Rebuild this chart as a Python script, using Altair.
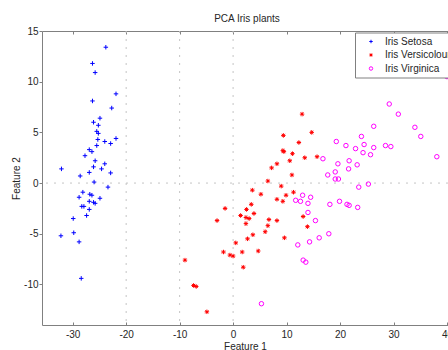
import altair as alt
import pandas as pd

# ---- data ----
setosa_x = [-23.8, -26.3, -25.8, -21.9, -26.3, -22.7, -24.9, -26.1, -25.2, -25.5,
            -25.2, -25.3, -24.0, -21.9, -22.9, -25.5, -26.9, -26.4, -27.7, -25.8,
            -24.0, -26.1, -32.1, -24.6, -26.9, -22.9, -28.6, -26.0, -23.4, -28.1,
            -26.8, -26.4, -28.8, -24.9, -26.1, -25.8, -26.9, -28.3, -27.9, -26.9,
            -27.4, -29.9, -29.8, -32.2, -28.8, -28.4]
setosa_y = [13.4, 11.8, 10.9, 8.8, 8.1, 7.4, 6.4, 6.0, 5.7, 5.1,
            4.9, 4.3, 4.1, 4.4, 3.9, 3.7, 3.3, 3.1, 2.7, 2.2,
            1.9, 1.6, 1.4, 1.4, 1.05, 1.0, 0.7, 0.1, -0.4, -0.9,
            -1.1, -1.2, -1.4, -1.5, -1.9, -2.0, -1.8, -2.3, -2.3, -2.6,
            -3.2, -3.5, -4.9, -5.2, -5.8, -9.4]

versi_x = [12.9, 9.4, 14.7, 12.3, 9.3, 9.5, 11.1, 13.4, 15.7, 10.6,
           8.2, 7.2, 11.0, 6.5, 9.0, 3.6, 5.2, 11.3, 9.9, 8.2,
           9.3, 3.4, -1.5, 2.5, 3.9, 1.4, 2.4, 3.0, -3.0, 6.7,
           8.2, 2.4, 6.5, 6.0, 3.7, 2.7, 9.6, 0.5, 4.7, -1.8,
           -0.6, 0.0, 1.7, -9.0, 1.9, -7.4, -6.9, -4.9, 13.1, 13.9]
versi_y = [6.8, 4.7, 5.0, 4.0, 3.2, 3.1, 2.9, 2.5, 2.6, 2.2,
           1.9, 1.5, 0.8, 0.2, -0.3, -0.7, -1.1, -0.9, -1.2, -1.6,
           -1.8, -2.1, -2.5, -2.6, -3.0, -3.2, -3.4, -3.5, -3.7, -3.6,
           -3.7, -4.0, -4.2, -4.8, -5.1, -5.5, -5.4, -5.9, -6.7, -6.8,
           -7.1, -7.2, -6.8, -7.6, -8.3, -10.1, -10.2, -12.7, -3.3, -4.3]

virg_x = [29.2, 30.9, 26.3, 34.0, 35.1, 24.0, 19.3, 21.1, 24.5, 28.5,
          29.5, 22.9, 26.3, 24.3, 25.7, 16.8, 21.7, 19.6, 23.2, 38.1,
          21.6, 19.1, 17.7, 19.1, 19.7, 25.3, 23.5, 13.0, 11.7, 12.6,
          14.5, 14.0, 18.1, 19.9, 21.3, 21.7, 23.3, 14.0, 15.4, 17.9,
          16.1, 14.3, 12.1, 13.1, 13.6, 5.3, 40.0]
virg_y = [7.8, 6.8, 5.6, 5.5, 4.6, 4.6, 4.1, 3.7, 3.8, 3.7,
          3.6, 3.4, 3.5, 3.0, 2.8, 2.4, 2.2, 1.9, 1.8, 2.6,
          1.4, 1.1, 0.8, 0.4, 0.4, -0.1, -0.4, -1.2, -1.7, -1.8,
          -1.4, -2.0, -2.1, -1.8, -2.1, -2.2, -2.4, -2.9, -3.7, -5.0,
          -5.4, -5.8, -6.1, -7.6, -7.8, -11.9, 10.5]

species = ["Iris Setosa", "Iris Versicolour", "Iris Virginica"]
x_ticks = [-30, -20, -10, 0, 10, 20, 30, 40]
y_ticks = [-10, -5, 0, 5, 10, 15]
grid_x = [-20, -10, 0]
grid_y = [0]

# ---- tables ----
df = pd.concat([
    pd.DataFrame({"x": setosa_x, "y": setosa_y, "species": species[0]}),
    pd.DataFrame({"x": versi_x, "y": versi_y, "species": species[1]}),
    pd.DataFrame({"x": virg_x, "y": virg_y, "species": species[2]}),
], ignore_index=True)
gx_df = pd.DataFrame({"gx": grid_x})
gy_df = pd.DataFrame({"gy": grid_y})

FONT = "Liberation Sans"
TXT = "#262626"
AXC = "#808080"
GRID = "#c4c4c4"

xs = alt.Scale(domain=[-35.74, 40.19], nice=False, zero=False)
ys = alt.Scale(domain=[-14, 15], nice=False, zero=False)

PLUS = "M-1,0L1,0M0,-1L0,1"
STAR = "M-1,0L1,0M0,-1L0,1M-0.7,-0.7L0.7,0.7M-0.7,0.7L0.7,-0.7"

ax_bottom = alt.Axis(orient="bottom", values=x_ticks, ticks=False, tickSize=0,
                     domainColor=AXC, domainWidth=1, labelFont=FONT, labelFontSize=10,
                     labelColor=TXT, labelPadding=4, labelExpr="'' + datum.value",
                     labelFlush=False, labelOverlap=False, grid=False,
                     title="Feature 1", titleFont=FONT, titleFontSize=10,
                     titleFontWeight="normal", titleColor=TXT, titlePadding=2)
ay_left = alt.Axis(orient="left", values=y_ticks, ticks=True, tickSize=3, tickColor=AXC,
                   domainColor=AXC, domainWidth=1, labelFont=FONT, labelFontSize=10,
                   labelColor=TXT, labelPadding=1, labelExpr="'' + datum.value",
                   labelFlush=False, labelOverlap=False, grid=False,
                   title="Feature 2", titleFont=FONT, titleFontSize=10,
                   titleFontWeight="normal", titleColor=TXT, titlePadding=2)
ax_bottom_ticks = alt.Axis(orient="bottom", offset=-3, values=x_ticks, domain=False,
                           labels=False, ticks=True, tickSize=3, tickColor=AXC,
                           grid=False, title="")
ax_top_border = alt.Axis(orient="top", values=x_ticks, domain=True, domainColor=AXC,
                         domainWidth=1, labels=False, ticks=False, grid=False, title="")
ax_top_ticks = alt.Axis(orient="top", offset=-3, values=x_ticks, domain=False,
                        labels=False, ticks=True, tickSize=3, tickColor=AXC,
                        grid=False, title="")

legend = alt.Legend(title="", orient="none", legendX=313, legendY=1.5,
                    fillColor="white", strokeColor=AXC, padding=4,
                    labelFont=FONT, labelFontSize=10, labelColor=TXT,
                    symbolSize=12, symbolStrokeWidth=1, symbolOffset=7,
                    labelOffset=9, rowPadding=3.5)

points = alt.Chart(df).mark_point(filled=False, strokeWidth=1, opacity=1, size=20).encode(
    x=alt.X("x:Q", scale=xs, axis=ax_bottom),
    y=alt.Y("y:Q", scale=ys, axis=ay_left),
    color=alt.Color("species:N", scale=alt.Scale(domain=species,
                    range=["#0000ff", "#ff0000", "#ff00ff"]), legend=legend),
    shape=alt.Shape("species:N", scale=alt.Scale(domain=species,
                    range=[PLUS, STAR, "circle"]), legend=legend),
)

vgrid = alt.Chart(gx_df).mark_rule(color=GRID, strokeDash=[2, 6], strokeWidth=1).encode(
    x=alt.X("gx:Q", scale=xs, axis=ax_top_border)
)
bticks = alt.Chart(gx_df).mark_rule(opacity=0).encode(
    x=alt.X("gx:Q", scale=xs, axis=ax_bottom_ticks)
)
tticks = alt.Chart(gx_df).mark_rule(opacity=0).encode(
    x=alt.X("gx:Q", scale=xs, axis=ax_top_ticks)
)
hgrid = alt.Chart(gy_df).mark_rule(color=GRID, strokeDash=[2, 6], strokeWidth=1).encode(
    y=alt.Y("gy:Q", scale=ys, axis=None)
)

chart = alt.layer(vgrid, hgrid, bticks, tticks, points).resolve_axis(
    x="independent", y="independent"
).properties(
    width=406, height=294,
    title=alt.TitleParams("PCA Iris plants", font=FONT, fontSize=10, fontWeight="normal",
                          color=TXT, anchor="middle", offset=2, dx=2),
    autosize=alt.AutoSizeParams(type="none"),
    padding={"left": 42, "top": 31, "right": 0, "bottom": 25},
).configure_view(stroke="transparent")

chart.save("out.html", embed_options={"renderer": "svg", "actions": False})
